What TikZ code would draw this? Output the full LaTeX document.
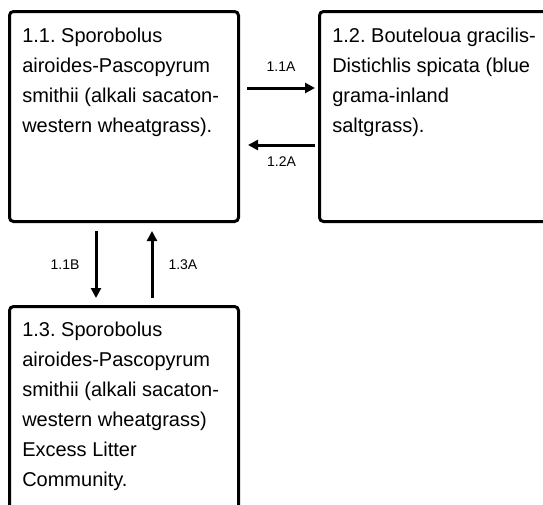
\documentclass[tikz,border=0pt]{standalone}
\usepackage{fontspec}
\setmainfont{Liberation Sans}
\usepackage{tikz}
\usetikzlibrary{arrows.meta, positioning}
\frenchspacing

\begin{document}
\begin{tikzpicture}[
    x=0.75pt, y=-0.75pt,
    node distance=58.5pt,
    statebox/.style={rectangle, draw=black, line width=2.25pt, rounded corners=3pt,
                     minimum width=171.75pt, minimum height=157.5pt, inner sep=0pt},
    desc/.style={anchor=north west, align=left, inner sep=0pt,
                 font=\fontsize{15}{22.5}\selectfont},
    lbl/.style={inner sep=0pt, font=\fontsize{10.5}{12}\selectfont},
    arrow/.style={-{Triangle[length=7.5pt,width=7.5pt]}, line width=2.25pt, draw=black}
]
\useasboundingbox (0,0) rectangle (543,504);
\clip (0,0) rectangle (543,504);

% community boxes
\node[statebox, anchor=north west] (b11) at (8,10) {};
\node[statebox, right=58.5pt of b11, minimum width=180pt] (b12) {};
\node[statebox, below=61.5pt of b11, anchor=north, minimum height=161.25pt] (b13) {};

\node[desc] (t11) at ([shift={(14,18)}]b11.north west)
    {1.1. Sporobolus\\airoides-Pascopyrum\\smithii (alkali sacaton-\\western wheatgrass).};
\node[desc] (t12) at ([shift={(14,18)}]b12.north west)
    {1.2. Bouteloua gracilis-\\Distichlis spicata (blue\\grama-inland\\saltgrass).};
\node[desc] (t13) at ([shift={(14,17)}]b13.north west)
    {1.3. Sporobolus\\airoides-Pascopyrum\\smithii (alkali sacaton-\\western wheatgrass)\\Excess Litter\\Community.};

% transitions
\draw[arrow] ([shift={(7,78)}]b11.north east) -- node[lbl, above=11.25pt] (l11a) {1.1A}
    ([shift={(-3,78)}]b12.north west);
\draw[arrow] ([shift={(-3,135)}]b12.north west) -- node[lbl, below=7.5pt] (l12a) {1.2A}
    ([shift={(8,135)}]b11.north east);
\draw[arrow] ([shift={(88,8)}]b11.south west) -- node[lbl, left=11.25pt] (l11b) {1.1B}
    ([shift={(88,-7)}]b13.north west);
\draw[arrow] ([shift={(144,-7)}]b13.north west) -- node[lbl, right=11.25pt] (l13a) {1.3A}
    ([shift={(144,8)}]b11.south west);
\end{tikzpicture}
\end{document}
